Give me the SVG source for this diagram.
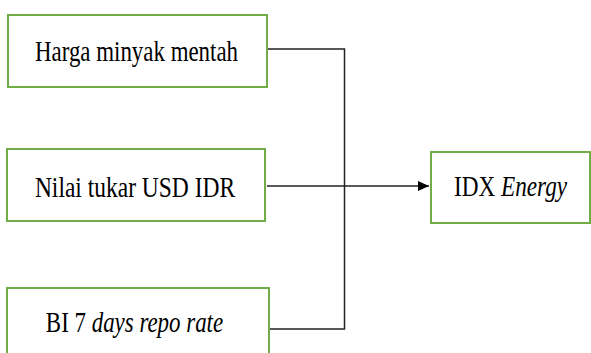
<svg xmlns="http://www.w3.org/2000/svg" width="591" height="353" viewBox="0 0 591 353">
<defs>
<style>
.box{fill:#fff;stroke:#70ad47;stroke-width:2}
.ln{fill:none;stroke:#222;stroke-width:1.5}
</style>
<marker id="arr" viewBox="0 0 11 10" refX="11" refY="5" markerWidth="11" markerHeight="10" markerUnits="userSpaceOnUse" orient="auto">
<path d="M0,0 L11,5 L0,10 Z" fill="#000"/>
</marker>
</defs>
<rect width="591" height="353" fill="#fff"/>
<g id="connectors">
<polyline class="ln" points="267,49 344.5,49 344.5,329 269,329"/>
<line class="ln" x1="267" y1="186" x2="429" y2="186" stroke="#000" marker-end="url(#arr)"/>
</g>
<g id="harga">
<rect class="box" x="8" y="15" width="259" height="72"/>
<text font-family="Liberation Serif, serif" font-size="29" fill="#000" text-anchor="middle" transform="translate(136.5,61) scale(0.79,1)">Harga minyak mentah</text>
</g>
<g id="nilai">
<rect class="box" x="7" y="149" width="258" height="72"/>
<text font-family="Liberation Serif, serif" font-size="29" fill="#000" text-anchor="middle" transform="translate(135,197) scale(0.81,1)">Nilai tukar USD IDR</text>
</g>
<g id="bi">
<rect class="box" x="7" y="288" width="262" height="80"/>
<text font-family="Liberation Serif, serif" font-size="29" fill="#000" text-anchor="middle" transform="translate(134.5,332) scale(0.79,1)">BI 7 <tspan font-style="italic">days repo rate</tspan></text>
</g>
<g id="idx">
<rect class="box" x="431" y="152" width="159" height="71"/>
<text font-family="Liberation Serif, serif" font-size="29" fill="#000" text-anchor="middle" transform="translate(510.5,196) scale(0.8,1)">IDX <tspan font-style="italic">Energy</tspan></text>
</g>
</svg>
